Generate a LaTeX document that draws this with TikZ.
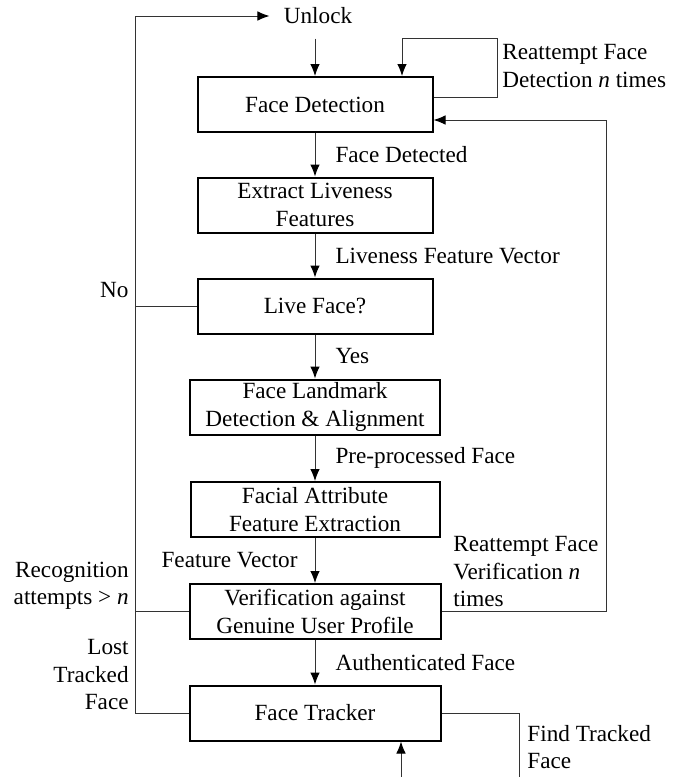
\documentclass[tikz,border=0pt]{standalone}
\usepackage{fontspec}
\setmainfont{Liberation Serif}
\usetikzlibrary{arrows.meta}
\tikzset{
    block/.style = {
        draw,
        line width     = 1pt,
        minimum width  = 117.5pt,
        minimum height = 27.5pt,
        align          = center,
        inner sep      = 1pt,
    },
    link/.style = {
        line width = .5pt,
        draw       = black!80,
    },
    flow/.style = {
        link,
        -{Latex[length=6pt,width=4.8pt,black]},
    },
    lbl/.style = {
        inner sep = 0pt,
        align     = left,
    }
}

\begin{document}
\begin{tikzpicture}[x=0.5pt,y=-0.5pt,font=\fontsize{11.6pt}{13.75pt}\selectfont]
  \useasboundingbox (0,0) rectangle (681,777);

  % Blocos
  \node[block] (Detection) at (315,104.5) {Face Detection};
  \node[block] (Liveness) at (315,205) {Extract Liveness\\Features};
  \node[block] (LiveFace) at (315,306) {Live Face?};
  \node[block,minimum width=125pt] (Landmark) at (315,407) {Face Landmark\\Detection \& Alignment};
  \node[block,minimum width=124.5pt] (Attribute) at (315,509.5) {Facial Attribute\\Feature Extraction};
  \node[block,minimum width=125.5pt] (Verification) at (315,611.5) {Verification against\\Genuine User Profile};
  \node[block,minimum width=125.5pt] (Tracker) at (315,713) {Face Tracker};
  \node[inner sep=7pt] (Unlock) at (318,16) {Unlock};

  % Pontos livres
  \coordinate (Bus) at (135,0);
  \coordinate (RightBus) at (606,0);
  \coordinate (LoopTop) at (497,38);
  \coordinate (TrackIn) at (401,777);
  \coordinate (TrackOut) at (519,777);

  % Fluxo principal
  \draw[flow] (Unlock.south -| Detection.north) to (Detection.north);
  \draw[flow] (Detection) -- node[lbl,right=10pt] {Face Detected} (Liveness);
  \draw[flow] (Liveness) -- node[lbl,right=10pt] {Liveness Feature Vector} (LiveFace);
  \draw[flow] (LiveFace) -- node[lbl,right=10pt] {Yes} (Landmark);
  \draw[flow] (Landmark) -- node[lbl,right=10pt] {Pre-processed Face} (Attribute);
  \draw[flow] (Attribute) -- node[lbl,left=8.5pt] {Feature Vector} (Verification);
  \draw[flow] (Verification) -- node[lbl,right=10pt] {Authenticated Face} (Tracker);

  % Laços
  \draw[flow] ([yshift=3.75pt]Detection.east) -| (LoopTop) -| ([xshift=43.5pt]Detection.north);
  \draw[flow] (Verification.east) -- (Verification.east -| RightBus) |- ([yshift=-7.75pt]Detection.east);

  % Retorno pela esquerda
  \draw[link] (LiveFace.west) -- (LiveFace.west -| Bus);
  \draw[link] (Verification.west) -- (Verification.west -| Bus);
  \draw[flow] (Tracker.west) -- (Tracker.west -| Bus) |- (Unlock.west);

  % Rastreador
  \draw[flow] (TrackIn) -- (TrackIn |- Tracker.south);
  \draw[link] (Tracker.east) -| (TrackOut);

  % Rótulos
  \node[lbl,anchor=east] (No) at (129,290) {No};
  \node[lbl,anchor=east,align=right] (Attempts) at (129,586) {Recognition\\attempts > \emph{n}};
  \node[lbl,anchor=east,align=right] (Lost) at (129,675) {Lost\\Tracked\\Face};
  \node[lbl,anchor=west] (RetryDetect) at (502,66) {Reattempt Face\\Detection \emph{n} times};
  \node[lbl,anchor=west] (RetryVerify) at (453,572) {Reattempt Face\\Verification \emph{n}\\times};
  \node[lbl,anchor=west] (FindTrack) at (527,747) {Find Tracked\\Face};

\end{tikzpicture}
\end{document}
